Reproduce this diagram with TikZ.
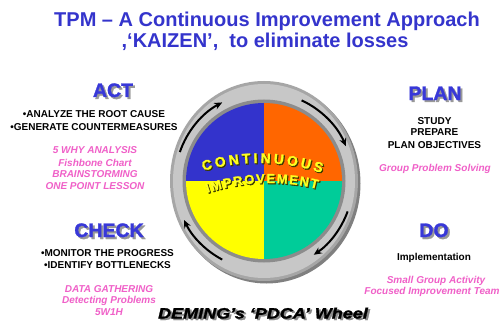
\documentclass[tikz,border=0pt]{standalone}
\usepackage{fontspec}
\setmainfont{Liberation Sans}
\newfontfamily\heavy[UprightFont={* Bold},ItalicFont={* Bold Italic},FakeBold=1.5]{Liberation Sans}
\newfontfamily\heavyout[UprightFont={* Bold},ItalicFont={* Bold Italic},FakeBold=4.5]{Liberation Sans}
\usetikzlibrary{arrows.meta}
\definecolor{ttl}{HTML}{3434CC}
\definecolor{hd}{HTML}{3838D8}
\definecolor{pinkt}{HTML}{F060C8}
\definecolor{pblue}{HTML}{3333CC}
\definecolor{porange}{HTML}{FF6600}
\definecolor{pyellow}{HTML}{FFFF00}
\definecolor{pgreen}{HTML}{00CC99}
\definecolor{ciyel}{HTML}{FFFF20}
\definecolor{cishadow}{HTML}{3A3A00}
\begin{document}
\begin{tikzpicture}[x=1pt,y=1pt,
  title/.style={anchor=base,inner sep=0,text=ttl,font=\bfseries\fontsize{20}{20}\selectfont},
  head/.style={anchor=base,inner sep=0,text=hd,font=\heavy\fontsize{19.5}{19.5}\selectfont},
  headsh/.style={head,text=black!40},
  blk/.style={anchor=base,inner sep=0,font=\bfseries\fontsize{10}{10}\selectfont},
  pk/.style={anchor=base,inner sep=0,text=pinkt,font=\bfseries\itshape\fontsize{10}{10}\selectfont},
  ci/.style={anchor=base,inner sep=0,text=ciyel,font=\heavy\fontsize{14}{14}\selectfont},
  cish/.style={ci,text=cishadow,font=\heavyout\fontsize{14}{14}\selectfont},
  im/.style={ci,font=\heavy\fontsize{13}{13}\selectfont},
  imsh/.style={ci,text=cishadow,font=\heavyout\fontsize{13}{13}\selectfont},
  arr/.style={line width=2pt,-{Stealth[length=8pt,width=7pt]}}]
\useasboundingbox (0,0) rectangle (504,322);
\fill[white] (0,0) rectangle (504,322);
% title
\node[title] (t1) at (267,295) {TPM – A Continuous Improvement Approach};
\node[title] (t2) at (265,274) {,‘KAIZEN’,\ \ to eliminate losses};
% wheel
\coordinate (c) at (264,141);
\fill[black!50] ([shift={(2.5,-2.5)}]c) ellipse[x radius=94,y radius=100];
\fill[black!35] (c) ellipse[x radius=94,y radius=100];
\fill[black!22] (c) ellipse[x radius=91,y radius=97];
\fill[black!45] (c) circle[radius=81.5];
\fill[pblue] (c) -- ++(90:78) arc[start angle=90,end angle=180,radius=78] -- cycle;
\fill[porange] (c) -- ++(0:78) arc[start angle=0,end angle=90,radius=78] -- cycle;
\fill[pyellow] (c) -- ++(180:78) arc[start angle=180,end angle=270,radius=78] -- cycle;
\fill[pgreen] (c) -- ++(270:78) arc[start angle=270,end angle=360,radius=78] -- cycle;
% arrows
\draw[arr] ([shift={(c)}]161:89) arc[start angle=161,end angle=118,radius=89];
\draw[arr] ([shift={(c)}]65:89) arc[start angle=65,end angle=23,radius=89];
\draw[arr] ([shift={(c)}]-20:89) arc[start angle=-20,end angle=-56,radius=89];
\draw[arr] ([shift={(c)}]-118:89) arc[start angle=-118,end angle=-154,radius=89];
% curved text
\foreach \l/\d [count=\i from 0] in {C/-15.77,O/-11.93,N/-8.09,T/-4.59,I/-1.98,N/0.86,U/4.58,O/8.42,U/12.26,S/15.87}{
  \node[cish,rotate={-\d-1}] (cs\i) at ([shift={(260.0,-42.0)}]{89-\d}:200) {\l};
  \node[ci,rotate={-\d-1}] (cc\i) at ([shift={(259,-41)}]{89-\d}:200) {\l};
}
\foreach \l/\d [count=\i from 0] in {I/-15.49,M/-13.0,P/-9.77,R/-6.76,O/-3.54,V/-0.42,E/2.50,M/5.72,E/8.94,N/11.96,T/14.87}{
  \node[imsh,rotate={2-\d}] (is\i) at ([shift={(270,-62)}]{92-\d}:200) {\l};
  \node[im,rotate={2-\d}] (ic\i) at ([shift={(269,-61)}]{92-\d}:200) {\l};
}
% ACT
\node[headsh] (acts) at (115,223) {ACT};
\node[head] (act) at (113,225) {ACT};
\node[blk] (a1) at (94,204.3) {•ANALYZE THE ROOT CAUSE};
\node[blk] (a2) at (94,191.3) {•GENERATE COUNTERMEASURES};
\node[pk] (ap1) at (95,168) {5 WHY ANALYSIS};
\node[pk] (ap2) at (95,156) {Fishbone Chart};
\node[pk] (ap3) at (95,144) {BRAINSTORMING};
\node[pk] (ap4) at (95,132) {ONE POINT LESSON};
% CHECK
\node[headsh] (chks) at (111,83) {CHECK};
\node[head] (chk) at (109,85) {CHECK};
\node[blk] (c1) at (107.5,66) {•MONITOR THE PROGRESS};
\node[blk] (c2) at (107.5,54) {•IDENTIFY BOTTLENECKS};
\node[pk] (cp1) at (109,30) {DATA GATHERING};
\node[pk] (cp2) at (109,19) {Detecting Problems};
\node[pk] (cp3) at (109,7) {5W1H};
% PLAN
\node[headsh] (plans) at (437,220) {PLAN};
\node[head] (plan) at (435,222) {PLAN};
\node[blk] (p1) at (434.5,197) {STUDY};
\node[blk] (p2) at (434.5,186) {PREPARE};
\node[blk] (p3) at (434.5,174) {PLAN OBJECTIVES};
\node[pk] (pp1) at (435,150) {Group Problem Solving};
% DO
\node[headsh] (dos) at (436,83) {DO};
\node[head] (do) at (434,85) {DO};
\node[blk] (d1) at (434,62) {Implementation};
\node[pk] (dp1) at (436,39) {Small Group Activity};
\node[pk] (dp2) at (432,28) {Focused Improvement Team};
% bottom
\node[anchor=base,inner sep=0,text=black!45,font=\heavy\itshape\fontsize{15}{15}\selectfont] (dems) at (265,2) {\scalebox{1.2}[1]{DEMING’s ‘PDCA’ Wheel}};
\node[anchor=base,inner sep=0,font=\heavy\itshape\fontsize{15}{15}\selectfont] (dem) at (263,3.5) {\scalebox{1.2}[1]{DEMING’s ‘PDCA’ Wheel}};
\end{tikzpicture}
\end{document}
